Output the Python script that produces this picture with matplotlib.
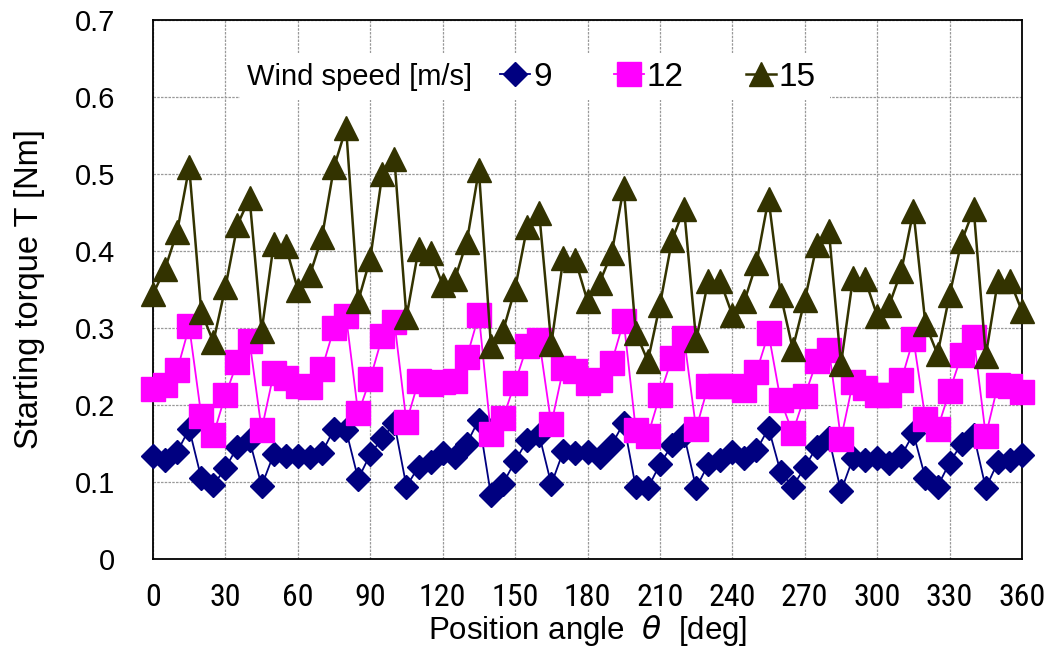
import matplotlib
matplotlib.use("Agg")
import matplotlib.pyplot as plt
from matplotlib import font_manager
from matplotlib.patches import Rectangle

angles = list(range(0, 361, 5))

torque_9 = [0.134, 0.128, 0.139, 0.169, 0.105, 0.096, 0.118, 0.146, 0.154, 0.095,
            0.136, 0.134, 0.134, 0.132, 0.138, 0.169, 0.167, 0.104, 0.136, 0.157,
            0.176, 0.094, 0.120, 0.126, 0.138, 0.133, 0.150, 0.181, 0.083, 0.098,
            0.127, 0.154, 0.161, 0.097, 0.140, 0.138, 0.139, 0.133, 0.148, 0.177,
            0.093, 0.092, 0.123, 0.148, 0.161, 0.092, 0.123, 0.128, 0.139, 0.131,
            0.141, 0.170, 0.113, 0.094, 0.119, 0.146, 0.157, 0.088, 0.131, 0.128,
            0.131, 0.125, 0.134, 0.163, 0.105, 0.094, 0.125, 0.150, 0.161, 0.092,
            0.126, 0.128, 0.135]

torque_12 = [0.221, 0.226, 0.245, 0.302, 0.186, 0.161, 0.213, 0.256, 0.283, 0.168,
             0.241, 0.235, 0.225, 0.223, 0.247, 0.300, 0.315, 0.189, 0.234, 0.289,
             0.308, 0.178, 0.231, 0.227, 0.230, 0.231, 0.262, 0.317, 0.162, 0.183,
             0.229, 0.277, 0.284, 0.175, 0.248, 0.244, 0.229, 0.233, 0.255, 0.309,
             0.168, 0.160, 0.213, 0.261, 0.287, 0.169, 0.225, 0.225, 0.225, 0.219,
             0.243, 0.293, 0.206, 0.164, 0.212, 0.257, 0.272, 0.156, 0.230, 0.222,
             0.213, 0.213, 0.232, 0.286, 0.182, 0.169, 0.218, 0.265, 0.288, 0.160,
             0.226, 0.225, 0.217]

torque_15 = [0.344, 0.377, 0.425, 0.509, 0.321, 0.282, 0.353, 0.434, 0.469, 0.296,
             0.409, 0.406, 0.350, 0.369, 0.418, 0.509, 0.560, 0.335, 0.390, 0.500,
             0.520, 0.314, 0.402, 0.397, 0.356, 0.363, 0.412, 0.505, 0.277, 0.296,
             0.351, 0.431, 0.449, 0.279, 0.391, 0.388, 0.335, 0.359, 0.397, 0.482,
             0.294, 0.257, 0.330, 0.414, 0.455, 0.284, 0.361, 0.361, 0.317, 0.335,
             0.384, 0.468, 0.343, 0.273, 0.336, 0.408, 0.426, 0.253, 0.365, 0.363,
             0.316, 0.330, 0.374, 0.452, 0.305, 0.266, 0.343, 0.413, 0.454, 0.264,
             0.361, 0.361, 0.322]

series_labels = ["9", "12", "15"]
x_ticks = list(range(0, 361, 30))
y_ticks = [0, 0.1, 0.2, 0.3, 0.4, 0.5, 0.6, 0.7]
y_tick_labels = ["0", "0.1", "0.2", "0.3", "0.4", "0.5", "0.6", "0.7"]

available = {f.name for f in font_manager.fontManager.ttflist}
base_font = "Liberation Sans" if "Liberation Sans" in available else "DejaVu Sans"
narrow_font = base_font
for cand in ["Liberation Sans Narrow", "DejaVu Sans Condensed", "Roboto Condensed"]:
    if cand in available:
        narrow_font = cand
        break
narrow_size = 19.5 if narrow_font == base_font else 23

fig = plt.figure(figsize=(10.51, 6.54), dpi=100)
ax = fig.add_axes([153 / 1051, 1 - 559 / 654, (1022 - 153) / 1051, (559 - 20) / 654])

ax.set_axisbelow(True)
ax.grid(True, color="#9a9a9a", linestyle=(0, (2, 1)), linewidth=0.9)

styles = [
    dict(color="#000080", marker="D", markersize=12.5, linewidth=1.3),
    dict(color="#FF00FF", marker="s", markersize=17, linewidth=1.3),
    dict(color="#333300", marker="^", markersize=17, linewidth=1.8),
]
handles = []
for vals, lab, st in zip([torque_9, torque_12, torque_15], series_labels, styles):
    h, = ax.plot(angles, vals, color=st["color"], marker=st["marker"],
                 markersize=st["markersize"], markerfacecolor=st["color"],
                 markeredgecolor=st["color"], linewidth=st["linewidth"],
                 label=lab, zorder=3, clip_on=False)
    handles.append(h)

ax.set_xlim(0, 360)
ax.set_ylim(0, 0.7)
ax.set_xticks(x_ticks)
ax.set_yticks(y_ticks)
ax.set_yticklabels(y_tick_labels)
ax.tick_params(axis="both", length=0)
ax.tick_params(axis="y", pad=27)
ax.tick_params(axis="x", pad=17)
for t in ax.get_yticklabels():
    t.set_fontfamily(base_font)
    t.set_fontsize(21)
for t in ax.get_xticklabels():
    t.set_fontfamily(narrow_font)
    t.set_fontsize(narrow_size)

for s in ax.spines.values():
    s.set_color("black")
    s.set_linewidth(1.3)

ax.set_ylabel("Starting torque T [Nm]", fontsize=23.5, fontfamily=base_font, labelpad=22)
ax.set_xlabel("Position angle  $\\theta$  [deg]", fontsize=22.5, fontfamily=base_font, labelpad=1)

# legend area
ax.add_patch(Rectangle((0.100, 0.852), 0.679, 0.087, transform=ax.transAxes,
                       facecolor="white", edgecolor="none", zorder=1.5))
ax.text(0.108, 0.894, "Wind speed [m/s]", transform=ax.transAxes, fontsize=21,
        fontfamily=base_font, va="center", ha="left", zorder=4)
leg = ax.legend(handles=handles, labels=series_labels, ncol=3, frameon=False,
                loc="center left", bbox_to_anchor=(0.3993, 0.894),
                handlelength=0.9, handletextpad=0.1, borderpad=0,
                columnspacing=1.85, borderaxespad=0, markerscale=1.0,
                prop={"family": base_font, "size": 24})
leg.set_zorder(4)

fig.savefig("out.png", dpi=100)
